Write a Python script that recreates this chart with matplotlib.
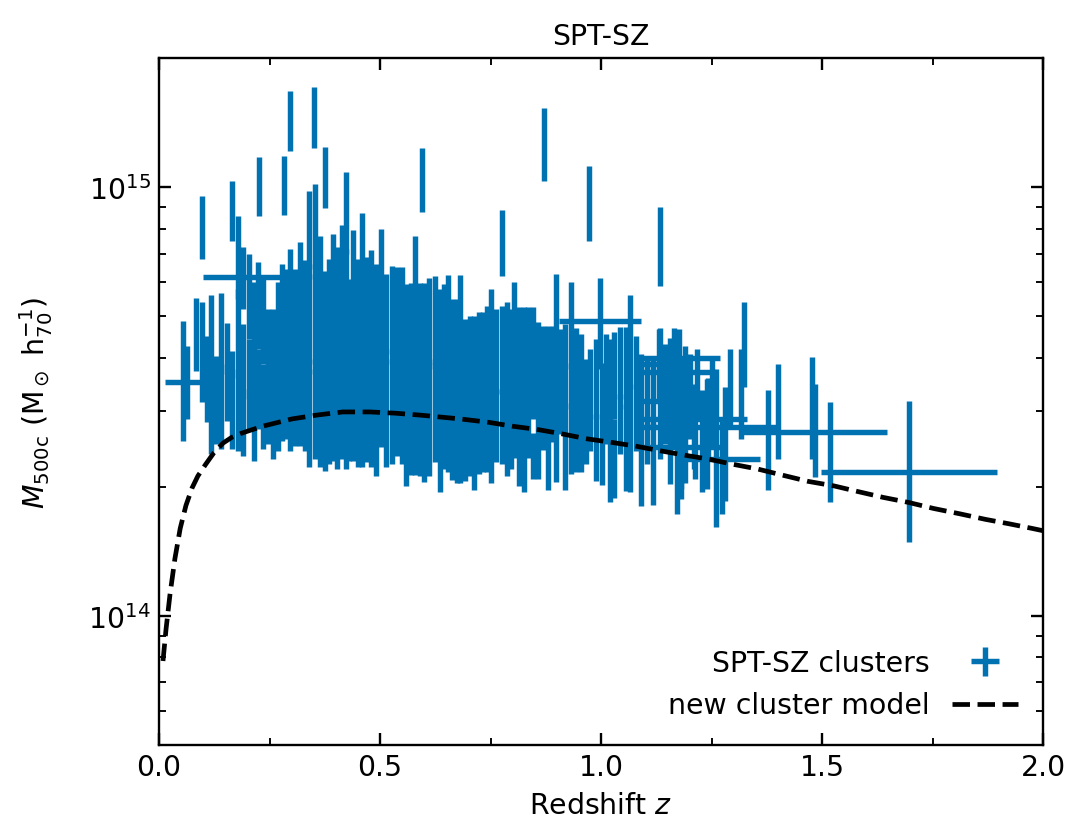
import numpy as np
import matplotlib
matplotlib.use('Agg')
import matplotlib.pyplot as plt
from matplotlib.ticker import MultipleLocator, NullFormatter

BLUE = '#0072B2'

# ---- SPT-SZ clusters with small (invisible) redshift errors; mass in 1e14 Msun/h70
z_spec = [
    0.063, 0.084, 0.097, 0.109, 0.118, 0.118, 0.129, 0.140, 0.140, 0.154,
    0.165, 0.179, 0.179, 0.179, 0.190, 0.190, 0.204, 0.204, 0.215, 0.215,
    0.224, 0.224, 0.235, 0.235, 0.247, 0.247, 0.258, 0.258, 0.269, 0.269,
    0.278, 0.278, 0.287, 0.287, 0.296, 0.296, 0.308, 0.308, 0.319, 0.319,
    0.330, 0.330, 0.339, 0.339, 0.339, 0.353, 0.353, 0.353, 0.364, 0.364,
    0.364, 0.376, 0.376, 0.385, 0.385, 0.394, 0.394, 0.394, 0.403, 0.403,
    0.414, 0.414, 0.414, 0.423, 0.423, 0.423, 0.430, 0.430, 0.439, 0.439,
    0.439, 0.450, 0.450, 0.459, 0.459, 0.459, 0.471, 0.471, 0.480, 0.480,
    0.491, 0.491, 0.502, 0.502, 0.502, 0.514, 0.514, 0.527, 0.527, 0.538,
    0.538, 0.550, 0.550, 0.559, 0.559, 0.570, 0.570, 0.579, 0.579, 0.579,
    0.590, 0.590, 0.600, 0.600, 0.611, 0.611, 0.624, 0.624, 0.636, 0.636,
    0.645, 0.645, 0.654, 0.654, 0.663, 0.663, 0.674, 0.674, 0.681, 0.681,
    0.692, 0.692, 0.704, 0.704, 0.713, 0.713, 0.724, 0.724, 0.733, 0.733,
    0.742, 0.742, 0.751, 0.751, 0.762, 0.762, 0.776, 0.776, 0.787, 0.787,
    0.796, 0.796, 0.803, 0.803, 0.814, 0.814, 0.826, 0.826, 0.835, 0.835,
    0.846, 0.846, 0.857, 0.857, 0.869, 0.869, 0.880, 0.880, 0.891, 0.891,
    0.898, 0.898, 0.910, 0.919, 0.919, 0.932, 0.932, 0.943, 0.943, 0.955,
    0.955, 0.966, 0.975, 0.989, 0.989, 1.002, 1.011, 1.020, 1.020, 1.029,
    1.029, 1.043, 1.043, 1.057, 1.057, 1.066, 1.066, 1.079, 1.090, 1.090,
    1.104, 1.118, 1.118, 1.133, 1.145, 1.156, 1.165, 1.172, 1.181, 1.190,
    1.201, 1.213, 1.217, 1.229, 1.242, 1.251, 1.260, 1.281, 1.292, 1.317,
    1.324, 1.378, 1.400, 1.477, 1.518,
    0.097, 0.165, 0.226, 0.283, 0.296, 0.351, 0.376, 0.595, 0.776, 0.871,
    0.973, 1.133,
]
mass_spec = [
    3.57, 4.62, 4.27, 3.66, 4.59, 3.08, 3.28, 4.67, 3.16, 3.84,
    3.30, 7.02, 4.68, 3.10, 4.00, 2.87, 5.70, 3.58, 4.84, 2.99,
    5.44, 3.46, 4.99, 3.16, 4.33, 3.05, 4.29, 2.90, 4.89, 3.15,
    5.35, 3.38, 5.21, 3.34, 5.80, 3.49, 5.21, 3.29, 6.06, 3.64,
    5.47, 3.37, 7.95, 4.97, 3.00, 8.30, 5.24, 3.15, 6.18, 4.00,
    2.80, 5.17, 3.13, 5.49, 3.28, 6.35, 4.13, 2.84, 5.84, 3.37,
    6.68, 4.36, 2.90, 8.91, 5.80, 3.37, 4.94, 3.09, 6.43, 4.13,
    2.80, 5.55, 3.32, 7.09, 4.55, 2.90, 5.59, 3.36, 5.78, 3.39,
    5.35, 3.16, 6.52, 4.29, 2.98, 5.07, 3.10, 5.31, 3.23, 5.24,
    3.22, 5.35, 3.28, 4.86, 2.94, 4.77, 2.90, 6.31, 4.13, 2.71,
    4.82, 2.95, 4.77, 2.83, 4.95, 3.00, 5.04, 3.13, 4.63, 2.76,
    4.81, 2.99, 5.06, 3.07, 4.43, 2.78, 4.39, 2.71, 5.06, 3.01,
    4.07, 2.68, 4.11, 2.71, 4.06, 2.59, 4.16, 2.72, 4.20, 2.77,
    4.33, 2.82, 4.68, 2.86, 4.24, 2.84, 4.28, 2.82, 4.39, 2.80,
    4.20, 2.75, 4.89, 3.10, 4.27, 2.70, 4.23, 2.62, 4.31, 2.91,
    4.06, 2.38, 4.03, 2.69, 3.98, 2.91, 3.89, 2.55, 3.98, 2.92,
    5.12, 3.07, 3.66, 3.92, 2.55, 4.89, 3.01, 3.86, 2.64, 3.75,
    2.60, 3.12, 3.31, 3.65, 2.51, 2.95, 3.53, 3.65, 2.40, 3.74,
    2.38, 3.97, 2.84, 3.88, 2.54, 4.49, 2.71, 3.46, 3.41, 2.30,
    3.12, 3.35, 2.31, 3.50, 3.41, 3.24, 3.78, 2.39, 2.92, 3.15,
    3.34, 2.74, 3.54, 2.66, 2.95, 3.21, 2.69, 2.63, 3.46, 3.39,
    4.41, 2.67, 3.09, 3.17, 2.50,
    8.16, 8.91, 10.16, 10.21, 14.44, 14.72, 10.66, 10.54, 7.52, 12.81,
    9.34, 7.44,
]
mass_err_spec = [
    0.69, 0.89, 1.12, 0.83, 1.02, 0.69, 0.76, 1.00, 0.71, 0.99,
    0.85, 1.54, 1.10, 0.67, 0.79, 0.51, 1.28, 0.85, 1.17, 0.69,
    1.25, 0.73, 1.12, 0.71, 0.86, 0.53, 0.91, 0.58, 1.12, 0.72,
    1.27, 0.82, 1.24, 0.75, 1.38, 1.06, 1.24, 0.80, 1.39, 1.15,
    1.28, 0.94, 1.85, 1.30, 0.77, 1.86, 1.37, 0.83, 1.51, 0.79,
    0.58, 1.20, 0.95, 1.30, 1.02, 1.43, 0.92, 0.54, 1.42, 1.17,
    1.49, 0.98, 0.58, 1.93, 1.38, 1.17, 1.17, 0.79, 1.51, 0.92,
    0.50, 1.25, 1.10, 1.61, 1.08, 0.68, 1.29, 1.07, 1.36, 1.16,
    1.27, 1.04, 1.47, 0.91, 0.50, 1.20, 0.87, 1.23, 0.97, 1.27,
    0.86, 1.16, 1.02, 1.09, 0.93, 1.20, 0.77, 1.39, 0.92, 0.58,
    1.15, 0.83, 1.20, 0.78, 1.18, 0.88, 1.17, 0.84, 1.16, 0.82,
    1.14, 0.79, 1.19, 0.91, 1.05, 0.70, 1.10, 0.67, 1.19, 0.97,
    0.86, 0.62, 0.90, 0.59, 0.94, 0.62, 0.95, 0.58, 0.91, 0.61,
    0.95, 0.66, 1.11, 0.82, 0.95, 0.55, 0.99, 0.56, 1.00, 0.68,
    0.99, 0.55, 1.12, 0.77, 0.98, 0.69, 1.02, 0.67, 0.93, 0.57,
    1.18, 0.29, 0.82, 0.60, 0.77, 0.47, 0.85, 0.58, 0.77, 0.37,
    1.15, 1.02, 1.01, 0.88, 0.58, 1.12, 0.87, 0.82, 0.48, 0.79,
    0.44, 0.86, 0.89, 0.77, 0.45, 0.93, 1.01, 0.77, 0.56, 0.86,
    0.50, 0.76, 0.45, 0.84, 0.58, 1.11, 0.76, 1.03, 0.67, 0.50,
    0.86, 0.62, 0.50, 1.18, 0.89, 1.21, 0.90, 0.66, 1.05, 1.11,
    0.75, 0.65, 0.66, 0.71, 0.63, 0.76, 1.08, 0.78, 0.73, 0.80,
    0.99, 0.70, 0.77, 0.85, 0.66,
    1.37, 1.43, 1.60, 1.60, 2.30, 2.39, 1.73, 1.80, 1.32, 2.48,
    1.86, 1.56,
]

# ---- clusters with visible redshift errors (photometric redshifts)
z_phot = [0.054, 0.190, 0.998, 1.131, 1.168, 1.172, 1.176, 1.180, 1.210,
          1.240, 1.273, 1.484, 1.697]
z_err_phot = [0.040, 0.090, 0.092, 0.047, 0.089, 0.089, 0.093, 0.090, 0.120,
              0.157, 0.087, 0.164, 0.200]
mass_phot = [3.52, 6.17, 4.87, 3.87, 3.17, 3.71, 3.99, 2.48, 2.88,
             2.76, 2.32, 2.68, 2.17]
mass_err_lo_phot = [0.96, 0.98, 1.10, 0.66, 0.72, 1.12, 1.11, 0.50, 0.68,
                    0.78, 0.59, 0.57, 0.68]
mass_err_hi_phot = [1.35, 1.08, 1.26, 0.80, 0.80, 0.71, 0.68, 0.56, 0.59,
                    0.81, 0.56, 0.79, 1.00]

# ---- model curve
z_model = [0.009, 0.016, 0.025, 0.036, 0.048, 0.061, 0.075, 0.088, 0.106, 0.124,
           0.145, 0.165, 0.188, 0.235, 0.301, 0.357, 0.416, 0.477, 0.534, 0.590,
           0.681, 0.744, 0.799, 0.857, 0.910, 0.966, 1.023, 1.077, 1.131, 1.190,
           1.244, 1.296, 1.355, 1.410, 1.468, 1.527, 1.581, 1.638, 1.695, 1.753,
           1.812, 1.869, 1.923, 1.975, 2.000]
mass_model = [0.785, 0.933, 1.125, 1.36, 1.60, 1.81, 1.99, 2.12, 2.26, 2.40,
              2.53, 2.61, 2.67, 2.77, 2.88, 2.94, 2.99, 2.99, 2.97, 2.94,
              2.88, 2.83, 2.77, 2.72, 2.66, 2.59, 2.54, 2.49, 2.43, 2.37,
              2.32, 2.26, 2.20, 2.13, 2.06, 2.01, 1.95, 1.89, 1.84, 1.78,
              1.73, 1.68, 1.64, 1.60, 1.58]

UNIT = 1e14

plt.rcParams['font.family'] = ['DejaVu Sans']
plt.rcParams['font.size'] = 12
plt.rcParams['axes.linewidth'] = 1.0

fig = plt.figure(figsize=(6.4, 826 / 170), dpi=170)
ax = fig.add_axes([159 / 1088, 1 - 746 / 826, (1043 - 159) / 1088, (746 - 59) / 826])

ms = np.array(mass_spec) * UNIT
es = np.array(mass_err_spec) * UNIT
ax.errorbar(z_spec, ms, yerr=es, fmt='none', ecolor=BLUE, elinewidth=2.3,
            capsize=0, zorder=2)

mp = np.array(mass_phot) * UNIT
yerr_p = [np.array(mass_err_lo_phot) * UNIT, np.array(mass_err_hi_phot) * UNIT]
h_clusters = ax.errorbar(z_phot, mp, xerr=z_err_phot, yerr=yerr_p, fmt='none',
                         ecolor=BLUE, elinewidth=2.3, capsize=0, zorder=2,
                         label='SPT-SZ clusters')

h_model, = ax.plot(z_model, np.array(mass_model) * UNIT, color='black', ls='--',
                   lw=2.0, zorder=5, label='new cluster model')

ax.set_yscale('log')
ax.set_xlim(0, 2.0)
ax.set_ylim(5e13, 2e15)
ax.xaxis.set_major_locator(MultipleLocator(0.5))
ax.xaxis.set_minor_locator(MultipleLocator(0.25))
ax.yaxis.set_minor_formatter(NullFormatter())
ax.tick_params(which='both', direction='in', top=True, right=True)
ax.tick_params(which='major', length=5, width=1.0, labelsize=12)
ax.tick_params(which='minor', length=3, width=0.8)

ax.set_xlabel('Redshift $z$', fontsize=12)
ax.set_ylabel(r'$M_{\rm 500c}$ (M$_\odot$ h$_{70}^{-1}$)', fontsize=12)
ax.yaxis.set_label_coords(-0.118, 0.5)
ax.set_title('SPT-SZ', fontsize=12)

ax.legend([h_clusters, h_model], ['SPT-SZ clusters', 'new cluster model'],
          loc='lower right', frameon=False, markerfirst=False, fontsize=12,
          handlelength=2.3)

fig.savefig('out.png', dpi=170)
